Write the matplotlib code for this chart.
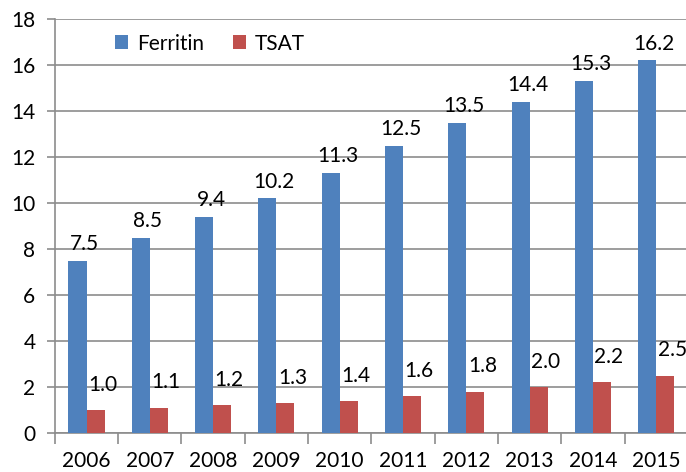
import matplotlib.pyplot as plt
import numpy as np

years = ['2006', '2007', '2008', '2009', '2010', '2011', '2012', '2013', '2014', '2015']
ferritin = [7.5, 8.5, 9.4, 10.2, 11.3, 12.5, 13.5, 14.4, 15.3, 16.2]
tsat = [1.0, 1.1, 1.2, 1.3, 1.4, 1.6, 1.8, 2.0, 2.2, 2.5]

plt.rcParams['font.family'] = ['Lato', 'DejaVu Sans']

fig = plt.figure(figsize=(6.86, 4.72), dpi=100)
ax = fig.add_axes([0.080, 0.0826, 0.9227, 0.877])

x = np.arange(len(years))
width = 0.285
grid_col = '#8c8c8c'
fs = 15

b1 = ax.bar(x - width / 2, ferritin, width, color='#4F81BD', label='Ferritin', zorder=3)
b2 = ax.bar(x + width / 2, tsat, width, color='#C0504D', label='TSAT', zorder=3)

for rect, v in zip(b1, ferritin):
    ax.annotate(f'{v:.1f}', (rect.get_x() + rect.get_width() / 2, v),
                xytext=(5, 5), textcoords='offset points',
                ha='center', va='bottom', fontsize=fs)
for rect, v in zip(b2, tsat):
    ax.annotate(f'{v:.1f}', (rect.get_x() + rect.get_width() / 2, v),
                xytext=(5, 11), textcoords='offset points',
                ha='center', va='bottom', fontsize=fs)

ax.set_xlim(-0.5, len(years) - 0.5)
ax.set_ylim(0, 18)
ax.set_yticks(np.arange(0, 19, 2))
ax.yaxis.grid(True, color=grid_col, linewidth=1.2, zorder=0)
ax.set_axisbelow(True)

ax.set_xticks(x)
ax.set_xticklabels(years)
ax.set_xticks(np.arange(-0.5, len(years), 1), minor=True)
ax.tick_params(axis='x', which='major', length=0, pad=13, labelsize=fs)
ax.tick_params(axis='x', which='minor', length=8, width=1.2, color=grid_col)
ax.tick_params(axis='y', length=6, width=1.2, color=grid_col, labelsize=fs, pad=8)

for s in ['top', 'right']:
    ax.spines[s].set_visible(False)
for s in ['left', 'bottom']:
    ax.spines[s].set_color(grid_col)
    ax.spines[s].set_linewidth(1.2)

ax.legend(loc='upper left', bbox_to_anchor=(0.065, 1.01), ncol=2, frameon=False,
          fontsize=fs, handlelength=0.65, handleheight=0.65, columnspacing=1.4,
          handletextpad=0.4)

fig.savefig('out.png', dpi=100)
